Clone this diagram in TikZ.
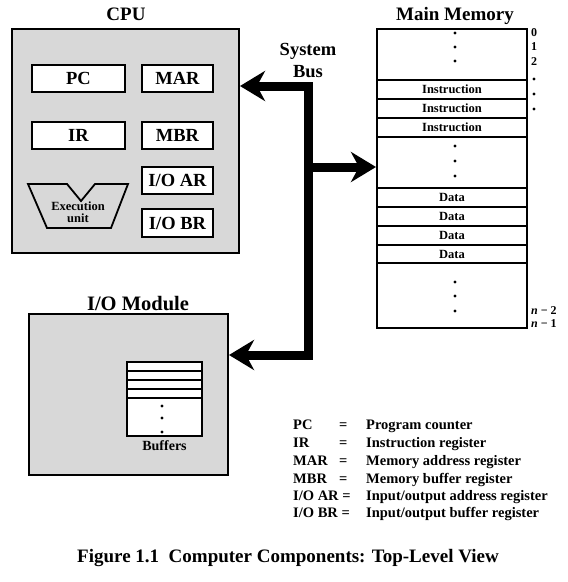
\documentclass[tikz,border=0pt]{standalone}
\usepackage{fontspec}
\setmainfont{Liberation Serif}
\usetikzlibrary{arrows.meta}
\definecolor{panelgray}{RGB}{216,216,216}
\newcommand\fs[1]{\fontsize{#1}{#1}\selectfont}
\begin{document}
\begin{tikzpicture}[x=1pt,y=-1pt,
  panel/.style={draw, line width=2pt, fill=panelgray, inner sep=0pt},
  reg/.style={draw, line width=1.5pt, fill=white, inner sep=0pt, font=\bfseries\fs{18.5}},
  cell/.style={draw, line width=1.2pt, inner sep=0pt, minimum width=150pt, minimum height=19pt, font=\bfseries\fs{12.5}},
  title/.style={font=\bfseries\fs{19}, inner sep=0pt, anchor=base},
  lbl/.style={font=\bfseries\fs{14.5}, inner sep=0pt, anchor=base west},
  side/.style={font=\bfseries\fs{12}, inner sep=0pt, anchor=west},
  dot/.style={circle, fill=black, inner sep=0pt, minimum size=3.2pt},
  bus/.style={line width=9pt, line join=miter, -{Stealth[length=25pt, width=30pt, inset=8pt]}}
]
\useasboundingbox (0,0) rectangle (568,582);

% CPU
\node[title] (cputitle) at (126,20) {CPU};
\node[panel, minimum width=227pt, minimum height=224pt] (cpu) at (125.5,141) {};
\node[reg, minimum width=93pt, minimum height=27pt] (pc)  at (78.5,78.5) {PC};
\node[reg, minimum width=71pt, minimum height=27pt] (mar) at (177.5,78.5) {MAR};
\node[reg, minimum width=93pt, minimum height=27pt] (ir)  at (78.5,135.5) {IR};
\node[reg, minimum width=71pt, minimum height=27pt] (mbr) at (177.5,135.5) {MBR};
\node[reg, minimum width=71pt, minimum height=27pt] (ioar) at (177.5,180.5) {I/O AR};
\node[reg, minimum width=71pt, minimum height=28pt] (iobr) at (177.5,223) {I/O BR};
\draw[line width=1.8pt, fill=panelgray] (28,184) -- (67,184) -- (81,201) -- (95,184) -- (128,184) -- (111,228) -- (47,228) -- cycle;
\node[font=\bfseries\fs{12.5}, align=center, inner sep=0pt] (exec) at (78,212) {Execution\\[-0.5pt]unit};

% Main memory
\node[title] (memtitle) at (455,20) {Main Memory};
\node[draw, line width=2pt, fill=white, inner sep=0pt, minimum width=150pt, minimum height=299pt] (mem) at (452,178.5) {};
\node[cell] (i1) at (452,89.5) {Instruction};
\node[cell] (i2) at (452,108.5) {Instruction};
\node[cell] (i3) at (452,127.5) {Instruction};
\node[cell] (d1) at (452,197.5) {Data};
\node[cell] (d2) at (452,216.5) {Data};
\node[cell] (d3) at (452,235.5) {Data};
\node[cell, minimum height=18pt] (d4) at (452,254) {Data};
\foreach \y/\n in {33/a,47/b,61/c,146/d,161/e,176/f,282/g,296/h,311/i}
  \node[dot] (md\n) at (455,\y) {};
\node[side] (l0) at (531,33) {0};
\node[side] (l1) at (531,47) {1};
\node[side] (l2) at (531,62) {2};
\foreach \y/\n in {79/a,94/b,109/c}
  \node[dot] (sd\n) at (534,\y) {};
\node[side] (ln2) at (531,311) {{\itshape n} − 2};
\node[side] (ln1) at (531,324) {{\itshape n} − 1};

% I/O module
\node[title, font=\bfseries\fs{20.5}] (iotitle) at (138,310) {I/O Module};
\node[panel, minimum width=199pt, minimum height=161pt] (io) at (128.5,394.5) {};
\node[draw, line width=1.3pt, fill=white, inner sep=0pt, minimum width=75pt, minimum height=74pt] (buf) at (164.5,399) {};
\foreach \y in {371,380,389,398}
  \draw[line width=1.1pt] (buf.west |- 0,\y) -- (buf.east |- 0,\y);
\foreach \y/\n in {406/a,418/b,432/c}
  \node[dot] (bd\n) at (162,\y) {};
\node[font=\bfseries\fs{14}, inner sep=0pt] (buflbl) at (164.5,446) {Buffers};

% System bus
\node[font=\bfseries\fs{18.5}, inner sep=0pt, anchor=base] (bus1) at (308,55) {System};
\node[font=\bfseries\fs{18.5}, inner sep=0pt, anchor=base] (bus2) at (308,77) {Bus};
\coordinate (bt) at (308,86);
\coordinate (bm) at (308,167);
\coordinate (bb) at (308,355);
\draw[bus] (bb) -- (bt) -- (cpu.east |- bt);
\draw[bus] (bt) -- (bb) -- (io.east |- bb);
\draw[bus] (bm) -- (mem.west |- bm);

% Legend
\node[lbl] (k1) at (293,429) {PC};
\node[lbl] (k2) at (293,447) {IR};
\node[lbl] (k3) at (293,465) {MAR};
\node[lbl] (k4) at (293,483) {MBR};
\node[lbl] (k5) at (293,500) {I/O AR =};
\node[lbl] (k6) at (293,517) {I/O BR =};
\foreach \y/\n in {429/a,447/b,465/c,483/d}
  \node[lbl] (eq\n) at (339,\y) {=};
\node[lbl] (v1) at (366,429) {Program counter};
\node[lbl] (v2) at (366,447) {Instruction register};
\node[lbl] (v3) at (366,465) {Memory address register};
\node[lbl] (v4) at (366,483) {Memory buffer register};
\node[lbl] (v5) at (366,500) {Input/output address register};
\node[lbl] (v6) at (366,517) {Input/output buffer register};

% Caption
\node[font=\bfseries\fs{19}, inner sep=0pt, anchor=base] (cap) at (288,562) {Figure 1.1\ \ Computer Components: Top-Level View};
\end{tikzpicture}
\end{document}
